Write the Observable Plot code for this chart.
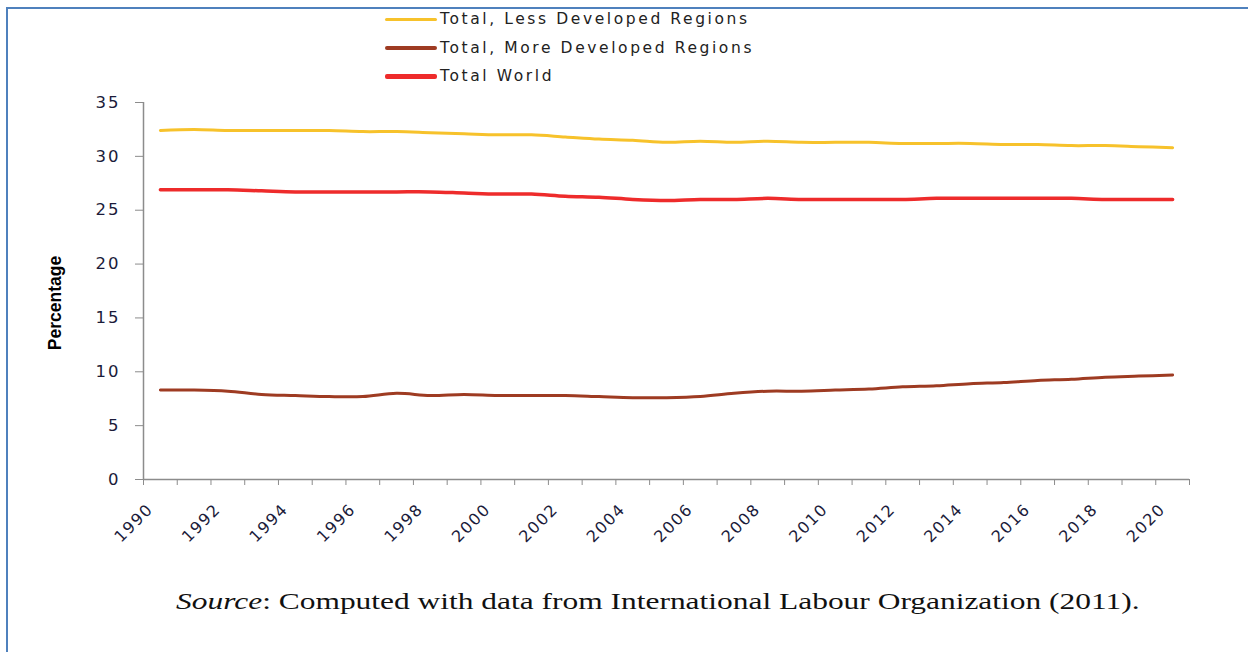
<!DOCTYPE html>
<html>
<head>
<meta charset="utf-8">
<script src="https://cdn.jsdelivr.net/npm/d3@7"></script>
<script src="https://cdn.jsdelivr.net/npm/@observablehq/plot@0.6"></script>
<style>
  html, body { margin: 0; padding: 0; background: #fff; width: 1248px; height: 652px; overflow: hidden; }
  #frame { position: absolute; left: 6px; top: 7px; width: 1300px; height: 700px; border-top: 2px solid #4F81BD; border-left: 2px solid #4F81BD; }
  #legend { position: absolute; left: 385px; top: 5px; font-family: "DejaVu Sans", sans-serif; font-size: 15.5px; letter-spacing: 2.6px; color: #222; }
  .item { height: 28.5px; display: flex; align-items: center; }
  .sw { width: 52px; margin-right: 3px; border-radius: 2px; }
  #chart { position: absolute; left: 0; top: 80px; }
  #caption { position: absolute; left: 0; width: 1315px; top: 588px; text-align: center; }
  #caption span { display: inline-block; transform: scaleX(1.31); transform-origin: center; font-family: "Liberation Serif", "Times New Roman", serif; font-size: 24px; color: #111; }
  g[aria-label="y-axis tick label"] text { letter-spacing: 2px; }
  g[aria-label="x-axis tick label"] text { letter-spacing: 1.5px; }
</style>
</head>
<body>
<div id="frame"></div>
<div id="legend"></div>
<div id="chart"></div>
<div id="caption"><span><i>Source</i>: Computed with data from International Labour Organization (2011).</span></div>
<script>
const years = d3.range(1990, 2021);
const lessDeveloped = [32.4, 32.5, 32.4, 32.4, 32.4, 32.4, 32.3, 32.3, 32.2, 32.1, 32.0, 32.0, 31.8, 31.6, 31.5, 31.3, 31.4, 31.3, 31.4, 31.3, 31.3, 31.3, 31.2, 31.2, 31.2, 31.1, 31.1, 31.0, 31.0, 30.9, 30.8];
const moreDeveloped = [8.3, 8.3, 8.2, 7.9, 7.8, 7.7, 7.7, 8.0, 7.8, 7.9, 7.8, 7.8, 7.8, 7.7, 7.6, 7.6, 7.7, 8.0, 8.2, 8.2, 8.3, 8.4, 8.6, 8.7, 8.9, 9.0, 9.2, 9.3, 9.5, 9.6, 9.7];
const totalWorld = [26.9, 26.9, 26.9, 26.8, 26.7, 26.7, 26.7, 26.7, 26.7, 26.6, 26.5, 26.5, 26.3, 26.2, 26.0, 25.9, 26.0, 26.0, 26.1, 26.0, 26.0, 26.0, 26.0, 26.1, 26.1, 26.1, 26.1, 26.1, 26.0, 26.0, 26.0];
const seriesNames = ["Total, Less Developed Regions", "Total, More Developed Regions", "Total World"];
const seriesColors = ["#F7C22B", "#9E3B22", "#EE2B2B"];
const seriesWidths = [3, 3, 3.5];
const legendWidths = [3.5, 3.5, 5];
const yTicks = [0, 5, 10, 15, 20, 25, 30, 35];
const xLabelYears = d3.range(1990, 2021, 2);
const yLabel = "Percentage";

const seriesValues = [lessDeveloped, moreDeveloped, totalWorld];

// legend
const legend = document.getElementById("legend");
seriesNames.forEach((n, i) => {
  const it = document.createElement("div");
  it.className = "item";
  it.innerHTML = `<div class="sw" style="background:${seriesColors[i]};height:${legendWidths[i]}px"></div><span>${n}</span>`;
  legend.appendChild(it);
});

const boundaries = d3.range(1989.5, 2021, 1);
const lineMarks = seriesValues.map((vals, i) =>
  Plot.line(years.map((y, j) => ({year: y, value: vals[j]})), {
    x: "year", y: "value", stroke: seriesColors[i], strokeWidth: seriesWidths[i], curve: "catmull-rom"
  })
);

const chart = Plot.plot({
  width: 1248,
  height: 480,
  marginLeft: 143,
  marginRight: 59,
  marginTop: 22,
  marginBottom: 81,
  style: {fontFamily: "'DejaVu Sans', sans-serif", color: "#1b1b3a", background: "transparent"},
  x: {domain: [1989.5, 2020.5]},
  y: {domain: [0, 35]},
  marks: [
    Plot.axisY({ticks: yTicks, tickSize: 8, tickPadding: 15, fontSize: 16.5, stroke: "#8c8c8c", fill: "#1b1b3a", label: yLabel, labelAnchor: "center", labelOffset: 95}),
    Plot.axisX({ticks: boundaries, tickSize: 6, tickFormat: () => "", stroke: "#8c8c8c", label: null}),
    Plot.axisX({ticks: xLabelYears, tickSize: 0, tickPadding: 27, tickRotate: -45, tickFormat: d => String(d), fontSize: 16, fill: "#1b1b3a", label: null, dx: -10}),
    Plot.ruleX([1989.5], {stroke: "#8c8c8c", strokeWidth: 1.5}),
    Plot.ruleY([0], {stroke: "#8c8c8c", strokeWidth: 1.5}),
    ...lineMarks
  ]
});
document.getElementById("chart").appendChild(chart);
// style y label
const lab = chart.querySelector('g[aria-label="y-axis label"] text');
if (lab) {
  lab.textContent = yLabel;
  lab.setAttribute("font-size", "17.5");
  lab.setAttribute("font-weight", "bold");
  lab.setAttribute("font-family", "'Liberation Sans', Arial, sans-serif");
  lab.setAttribute("fill", "#000");
  lab.setAttribute("dx", "-12");
}
</script>
</body>
</html>
